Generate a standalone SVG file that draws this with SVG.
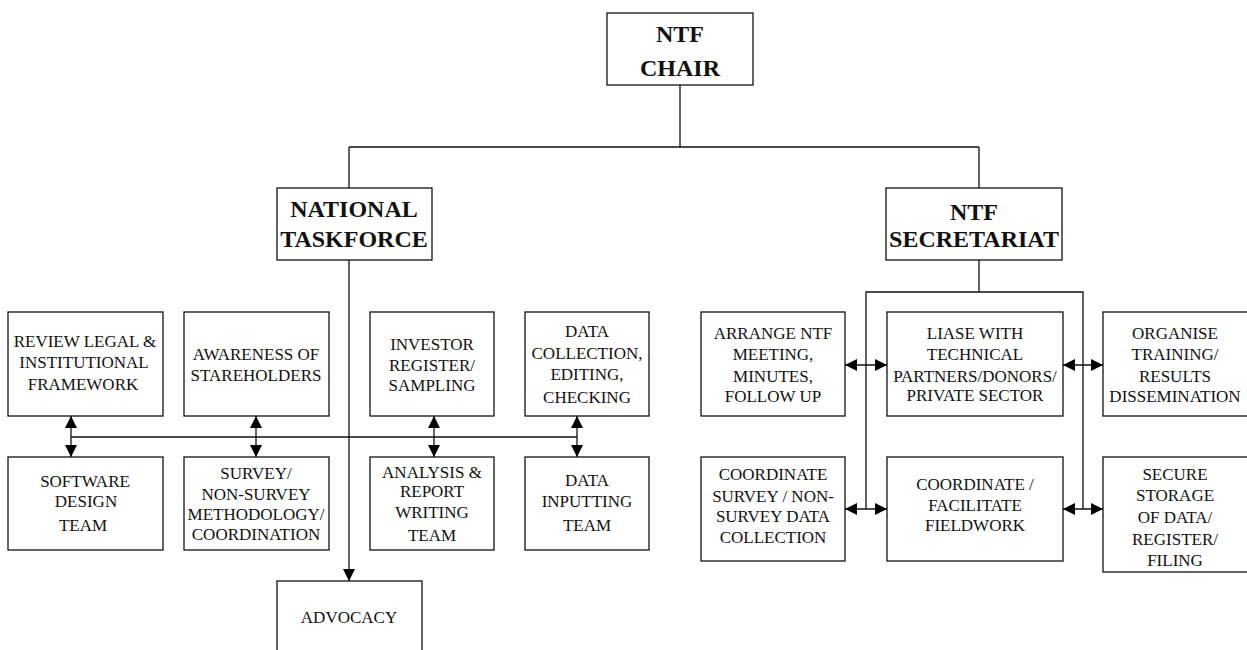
<svg xmlns="http://www.w3.org/2000/svg" width="1247" height="650" viewBox="0 0 1247 650">
<style>
.box{fill:#fff;stroke:#111;stroke-width:1.3}
.t{font-family:"Liberation Serif","Times New Roman",serif;font-size:17px;fill:#111;text-anchor:middle}
.h{font-family:"Liberation Serif","Times New Roman",serif;font-weight:bold;font-size:24px;fill:#111;text-anchor:middle}
.c{fill:none;stroke:#111;stroke-width:1.3}
</style>
<defs>
<marker id="ah" viewBox="0 0 12 12" refX="12" refY="6" markerWidth="12" markerHeight="12" markerUnits="userSpaceOnUse" orient="auto-start-reverse">
<path d="M0,0 L12,6 L0,12 z" fill="#000"/>
</marker>
</defs>
<rect width="1247" height="650" fill="#fff"/>
<g id="connectors">
<path class="c" d="M680,85 V147 M349,147 H979 M349,147 V188 M979,147 V188"/>
<path class="c" d="M349,260 V581" marker-end="url(#ah)"/>
<path class="c" d="M71,437 H577"/>
<path class="c" d="M71,416 V457" marker-start="url(#ah)" marker-end="url(#ah)"/>
<path class="c" d="M256,416 V457" marker-start="url(#ah)" marker-end="url(#ah)"/>
<path class="c" d="M434,416 V457" marker-start="url(#ah)" marker-end="url(#ah)"/>
<path class="c" d="M577,416 V457" marker-start="url(#ah)" marker-end="url(#ah)"/>
<path class="c" d="M979,260 V292 M866,509 V292 H1083 V509"/>
<path class="c" d="M845,365 H887" marker-start="url(#ah)" marker-end="url(#ah)"/>
<path class="c" d="M845,509 H887" marker-start="url(#ah)" marker-end="url(#ah)"/>
<path class="c" d="M1063,365 H1103" marker-start="url(#ah)" marker-end="url(#ah)"/>
<path class="c" d="M1063,509 H1103" marker-start="url(#ah)" marker-end="url(#ah)"/>
</g>
<g id="ntf-chair">
<rect class="box" x="607" y="13" width="146" height="72"/>
<text class="h" x="680" y="42">NTF</text>
<text class="h" x="680" y="76">CHAIR</text>
</g>
<g id="national-taskforce">
<rect class="box" x="277" y="188" width="155" height="72"/>
<text class="h" x="354" y="217" font-size="23">NATIONAL</text>
<text class="h" x="354" y="247" font-size="23">TASKFORCE</text>
</g>
<g id="ntf-secretariat">
<rect class="box" x="886" y="188" width="176" height="72"/>
<text class="h" x="974" y="220">NTF</text>
<text class="h" x="974" y="247">SECRETARIAT</text>
</g>
<g id="review-legal">
<rect class="box" x="8" y="312" width="155" height="104"/>
<text class="t" x="85" y="347">REVIEW LEGAL &amp;</text>
<text class="t" x="84" y="368">INSTITUTIONAL</text>
<text class="t" x="83" y="390">FRAMEWORK</text>
</g>
<g id="awareness">
<rect class="box" x="184" y="312" width="145" height="104"/>
<text class="t" x="256" y="360">AWARENESS OF</text>
<text class="t" x="256" y="381">STAREHOLDERS</text>
</g>
<g id="investor-register">
<rect class="box" x="370" y="312" width="124" height="104"/>
<text class="t" x="432" y="350">INVESTOR</text>
<text class="t" x="432" y="371">REGISTER/</text>
<text class="t" x="432" y="391">SAMPLING</text>
</g>
<g id="data-collection">
<rect class="box" x="525" y="312" width="124" height="104"/>
<text class="t" x="587" y="337">DATA</text>
<text class="t" x="587" y="359">COLLECTION,</text>
<text class="t" x="587" y="380">EDITING,</text>
<text class="t" x="587" y="403">CHECKING</text>
</g>
<g id="software-design">
<rect class="box" x="8" y="457" width="155" height="93"/>
<text class="t" x="85" y="487">SOFTWARE</text>
<text class="t" x="86" y="507">DESIGN</text>
<text class="t" x="83" y="531">TEAM</text>
</g>
<g id="survey-methodology">
<rect class="box" x="184" y="457" width="145" height="93"/>
<text class="t" x="256" y="479">SURVEY/</text>
<text class="t" x="256" y="500">NON-SURVEY</text>
<text class="t" x="256" y="520">METHODOLOGY/</text>
<text class="t" x="256" y="540">COORDINATION</text>
</g>
<g id="analysis-report">
<rect class="box" x="370" y="457" width="124" height="93"/>
<text class="t" x="432" y="478">ANALYSIS &amp;</text>
<text class="t" x="432" y="497">REPORT</text>
<text class="t" x="432" y="518">WRITING</text>
<text class="t" x="432" y="541">TEAM</text>
</g>
<g id="data-inputting">
<rect class="box" x="525" y="457" width="124" height="93"/>
<text class="t" x="587" y="486">DATA</text>
<text class="t" x="587" y="507">INPUTTING</text>
<text class="t" x="587" y="531">TEAM</text>
</g>
<g id="advocacy">
<rect class="box" x="277" y="581" width="145" height="90"/>
<text class="t" x="349" y="623">ADVOCACY</text>
</g>
<g id="arrange-meeting">
<rect class="box" x="701" y="312" width="144" height="104"/>
<text class="t" x="773" y="339">ARRANGE NTF</text>
<text class="t" x="773" y="360">MEETING,</text>
<text class="t" x="773" y="382">MINUTES,</text>
<text class="t" x="773" y="402">FOLLOW UP</text>
</g>
<g id="liase-partners">
<rect class="box" x="887" y="312" width="176" height="104"/>
<text class="t" x="975" y="339">LIASE WITH</text>
<text class="t" x="975" y="360">TECHNICAL</text>
<text class="t" x="975" y="382">PARTNERS/DONORS/</text>
<text class="t" x="975" y="401">PRIVATE SECTOR</text>
</g>
<g id="organise-training">
<rect class="box" x="1103" y="312" width="148" height="104"/>
<text class="t" x="1175" y="339">ORGANISE</text>
<text class="t" x="1175" y="360">TRAINING/</text>
<text class="t" x="1175" y="382">RESULTS</text>
<text class="t" x="1175" y="402">DISSEMINATION</text>
</g>
<g id="coordinate-survey">
<rect class="box" x="701" y="457" width="144" height="104"/>
<text class="t" x="773" y="480">COORDINATE</text>
<text class="t" x="773" y="502">SURVEY / NON-</text>
<text class="t" x="773" y="522">SURVEY DATA</text>
<text class="t" x="773" y="543">COLLECTION</text>
</g>
<g id="facilitate-fieldwork">
<rect class="box" x="887" y="457" width="176" height="104"/>
<text class="t" x="975" y="490">COORDINATE /</text>
<text class="t" x="975" y="511">FACILITATE</text>
<text class="t" x="975" y="531">FIELDWORK</text>
</g>
<g id="secure-storage">
<rect class="box" x="1103" y="457" width="148" height="115"/>
<text class="t" x="1175" y="480">SECURE</text>
<text class="t" x="1175" y="501">STORAGE</text>
<text class="t" x="1175" y="523">OF DATA/</text>
<text class="t" x="1175" y="545">REGISTER/</text>
<text class="t" x="1175" y="566">FILING</text>
</g>
</svg>
